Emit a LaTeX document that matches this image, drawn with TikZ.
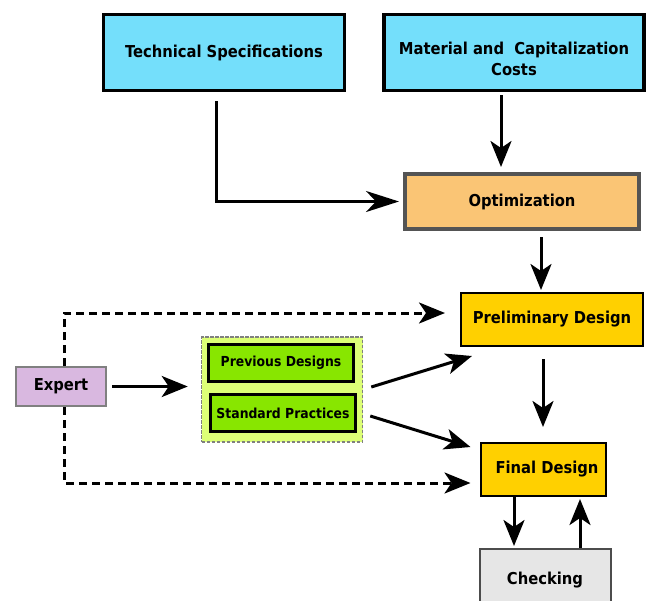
\documentclass[tikz,border=0pt]{standalone}
\usepackage{fontspec}
\newfontfamily\lab{DejaVu Sans Condensed}
\usetikzlibrary{arrows.meta}

\definecolor{specblue}{HTML}{74DFFB}
\definecolor{optorange}{HTML}{FAC575}
\definecolor{designgold}{HTML}{FFD000}
\definecolor{expertlilac}{HTML}{D9B8E0}
\definecolor{groupyellow}{HTML}{DDFF77}
\definecolor{practicegreen}{HTML}{88E600}
\definecolor{checkgray}{HTML}{E6E6E6}

\tikzset{
  box/.style={draw, inner sep=0pt, align=center,
    font=\lab\bfseries\fontsize{16.4}{21}\selectfont},
  smallbox/.style={box, font=\lab\bfseries\fontsize{13.8}{16}\selectfont},
  arr/.style={line width=3pt, -{Stealth[length=26pt,width=21pt,inset=7pt]}},
  longarr/.style={line width=3pt, -{Stealth[length=33pt,width=21pt,inset=10pt]}},
  dasharr/.style={arr, dash pattern=on 8pt off 5pt},
}

\begin{document}
\begin{tikzpicture}[x=1pt, y=-1pt]
\clip (0,0) rectangle (648,600);

% inputs
\node[box, line width=3pt, fill=specblue, minimum width=241pt, minimum height=76pt]
  (ts) at (224,52.5) {Technical Specifications};
\node[box, line width=3.5pt, fill=specblue, minimum width=260pt, minimum height=76pt]
  (mc) at (514,52.5) {};
\node[font=\lab\bfseries\fontsize{16.4}{21}\selectfont, align=center]
  (mctext) at (514,59) {Material and\ \ Capitalization\\Costs};

% main flow
\node[box, line width=4pt, draw=black!67, fill=optorange, minimum width=234pt, minimum height=55pt]
  (opt) at (522,201.5) {Optimization};
\node[box, line width=2pt, fill=designgold, minimum width=182pt, minimum height=53pt]
  (pre) at (552,319.5) {Preliminary Design};
\node[box, line width=2pt, fill=designgold, minimum width=125pt, minimum height=53pt]
  (fin) at (543,469.5) {\hspace*{8pt}Final Design};
\node[box, line width=2pt, draw=black!70, fill=checkgray, minimum width=131pt, minimum height=62pt]
  (chk) at (545,580) {Checking};

% expert and experience
\node[box, line width=2pt, draw=black!50, fill=expertlilac, minimum width=90pt, minimum height=39pt]
  (exp) at (61,386.5) {Expert};
\node[draw=black!50, line width=1.5pt, dash pattern=on 3.5pt off 1.5pt, fill=groupyellow,
  minimum width=161pt, minimum height=105pt, inner sep=0pt] (grp) at (282,389.5) {};
\node[smallbox, line width=3pt, fill=practicegreen, minimum width=145pt, minimum height=37pt]
  (prev) at (281,363) {Previous Designs};
\node[smallbox, line width=3pt, fill=practicegreen, minimum width=145pt, minimum height=37pt]
  (std) at (283,413) {Standard Practices};

% connectors
\coordinate (tsout) at ([xshift=-8pt,yshift=-9pt]ts.south);
\draw[longarr, shorten >=4pt] (tsout) |- (opt.west);

\coordinate (mcout) at ([xshift=-13pt]mc.south);
\draw[arr, shorten <=3pt, shorten >=5pt] (mcout) -- (mcout |- opt.north);

\coordinate (optout) at ([xshift=19pt]opt.south);
\draw[arr, shorten <=6pt, shorten >=2pt] (optout) -- (optout |- pre.north);

\draw[arr, shorten <=12pt, shorten >=15pt] (fin.north |- pre.south) -- (fin.north);

\coordinate (fdown) at ([xshift=-29pt]fin.south);
\draw[arr, shorten >=2pt] (fdown) -- (fdown |- chk.north);
\coordinate (fup) at ([xshift=35pt]chk.north);
\draw[arr, shorten >=2pt] (fup) -- (fup |- fin.south);

\draw[arr, shorten <=5pt, shorten >=13pt] (exp.east) -- (exp.east -| grp.west);

\draw[arr] ([shift={(8pt,2.5pt)}]grp.east) -- ([shift={(12pt,-9pt)}]pre.south west);
\draw[arr] ([shift={(7pt,-26.5pt)}]grp.east) -- ([shift={(-9pt,-5pt)}]fin.north west);

\draw[dasharr] ([xshift=3pt]exp.north) |- ([xshift=-15pt,yshift=6.5pt]pre.west);
\draw[dasharr] ([xshift=3pt]exp.south) |- ([xshift=-9pt,yshift=-13.5pt]fin.west);

\end{tikzpicture}
\end{document}
